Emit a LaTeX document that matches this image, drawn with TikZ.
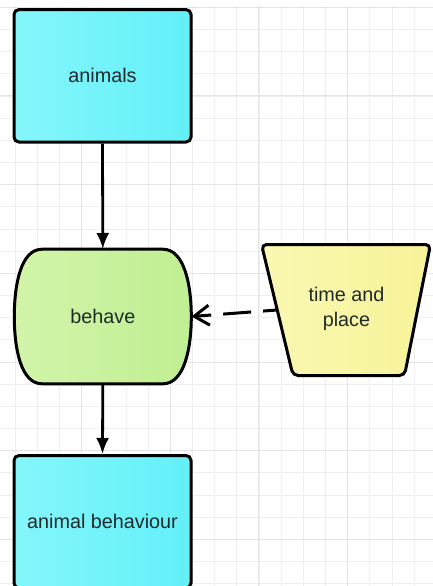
\documentclass[tikz,border=0pt]{standalone}
\usepackage{fontspec}
\setmainfont{Liberation Sans}
\usetikzlibrary{arrows.meta}
\definecolor{cyanL}{HTML}{84F6FB}
\definecolor{cyanR}{HTML}{63F0F8}
\definecolor{greenL}{HTML}{D2F4AA}
\definecolor{greenR}{HTML}{C0EF92}
\definecolor{yelL}{HTML}{FAF8B2}
\definecolor{yelR}{HTML}{F7F398}
\definecolor{gridminor}{HTML}{EFEFEF}
\definecolor{gridmajor}{HTML}{E4E4E4}
\definecolor{txt}{HTML}{1F2A2B}
\tikzset{
  lbl/.style={text=txt, font=\fontsize{19.8}{25}\selectfont, align=center},
  bluebox/.style={lbl, rectangle, draw=black, line width=3pt, rounded corners=5pt,
    left color=cyanL, right color=cyanR, minimum width=177pt},
  outline/.style={draw=black, line width=3pt},
  arr/.style={draw=black, line width=2.8pt, -{Latex[length=16pt,width=13pt]}},
  dasharr/.style={draw=black, line width=3pt, dash pattern=on 28pt off 12pt, dash phase=14pt,
    -{Straight Barb[length=15pt,width=20pt]}},
  gminor/.style={draw=gridminor, line width=0.8pt},
  gmajor/.style={draw=gridmajor, line width=1pt}
}
\begin{document}
\begin{tikzpicture}[x=1pt,y=-1pt]
\useasboundingbox (0,0) rectangle (433,586);
\fill[white] (0,0) rectangle (433,586);
% grid
\begin{scope}
\clip (0,6) rectangle (433,586);
\foreach \i in {0,...,20} {
  \pgfmathsetmacro{\gx}{-7.07+22.17*\i}
  \draw[gminor] (\gx,6) -- (\gx,586);
}
\foreach \j in {0,...,26} {
  \pgfmathsetmacro{\gy}{7.3+22.17*\j}
  \draw[gminor] (0,\gy) -- (433,\gy);
}
\foreach \i in {0,...,5} {
  \pgfmathsetmacro{\gx}{-7.07+88.68*\i}
  \draw[gmajor] (\gx,6) -- (\gx,586);
}
\foreach \j in {0,...,6} {
  \pgfmathsetmacro{\gy}{7.3+88.68*\j}
  \draw[gmajor] (0,\gy) -- (433,\gy);
}
\end{scope}

% boxes
\node[bluebox, minimum height=132.5pt] (animals) at (102.5,75.8) {animals};
\node[bluebox, minimum height=132.5pt] (ab) at (102.5,521.75) {animal behaviour};

% behave (curved sides)
\path[outline, left color=greenL, right color=greenR]
  (42,249.2) -- (163,249.2)
  .. controls (184,249.2) and (191.3,284) .. (191.3,316.5)
  .. controls (191.3,349) and (184,383.8) .. (163,383.8)
  -- (42,383.8)
  .. controls (21,383.8) and (14.3,349) .. (14.3,316.5)
  .. controls (14.3,284) and (21,249.2) .. cycle;
\node[lbl, minimum width=177pt, minimum height=134.6pt, inner sep=0pt] (behave) at (102.8,316.5) {behave};

% time and place trapezoid
\path[outline, rounded corners=5pt, left color=yelL, right color=yelR]
  (261.5,244.5) -- (430.5,244.5) -- (404.5,375.5) -- (293,375.5) -- cycle;
\node[lbl] (tp) at (346.5,308.5) {time and\\place};
\coordinate (tpl) at (277,310);

% connectors
\draw[arr] (animals.south) -- (behave.north);
\draw[arr] (behave.south) -- (ab.north);
\draw[dasharr] (tpl) -- (behave.east);
\end{tikzpicture}
\end{document}
